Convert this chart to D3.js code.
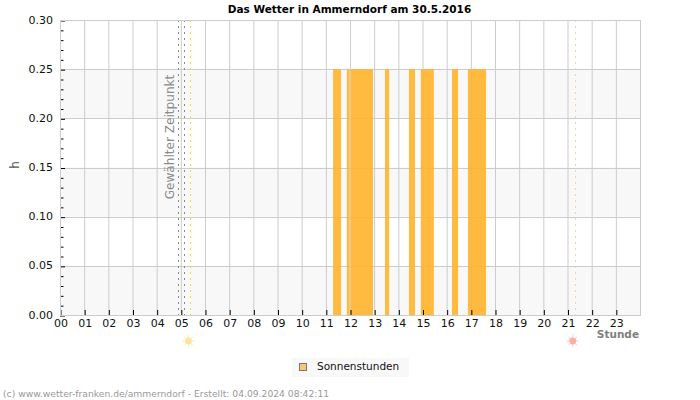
<!DOCTYPE html>
<html>
<head>
<meta charset="utf-8">
<script src="https://cdn.jsdelivr.net/npm/d3@7"></script>
<style>
  html, body { margin: 0; padding: 0; background: #fff; }
  text { font-family: "DejaVu Sans", sans-serif; }
  svg { display: block; }
</style>
</head>
<body>
<div id="chart"></div>
<script>
const title = "Das Wetter in Ammerndorf am 30.5.2016";
const credit = "(c) www.wetter-franken.de/ammerndorf - Erstellt: 04.09.2024 08:42:11";
const hourLabels = d3.range(24).map(h => String(h).padStart(2, "0"));
const yTicks = [0, 0.05, 0.10, 0.15, 0.20, 0.25, 0.30];
const yMinorTicks = [0.01, 0.02, 0.03, 0.04, 0.06, 0.07, 0.08, 0.09, 0.11, 0.12, 0.13, 0.14,
                     0.16, 0.17, 0.18, 0.19, 0.21, 0.22, 0.23, 0.24, 0.26, 0.27, 0.28, 0.29];
const bandStarts = [0, 0.10, 0.20];
const bandEnds = [0.05, 0.15, 0.25];

// sunshine intervals, in hours
const sunStart = [11.30, 11.87, 12.04, 13.45, 14.44, 14.93, 16.22, 16.88];
const sunEnd = [11.63, 11.99, 12.95, 13.62, 14.69, 15.47, 16.47, 17.63];
const sunValue = [0.25, 0.25, 0.25, 0.25, 0.25, 0.25, 0.25, 0.25];

const selectedTimes = [4.90, 5.13];
const sunrise = 5.40;
const sunset = 21.30;

const width = 700, height = 400;
const svg = d3.select("#chart").append("svg")
    .attr("width", width)
    .attr("height", height);

const x = d3.scaleLinear().domain([0, 24]).range([60, 640]);
const y = d3.scaleLinear().domain([0, 0.30]).range([315, 20]);

// stripes
svg.selectAll("rect.band")
  .data(bandStarts)
  .join("rect")
    .attr("class", "band")
    .attr("x", x(0))
    .attr("width", x(24) - x(0))
    .attr("y", (d, i) => y(bandEnds[i]))
    .attr("height", (d, i) => y(d) - y(bandEnds[i]))
    .attr("fill", "#f8f8f8");

// grid
const gridColor = "#cccccc";
svg.selectAll("line.gx")
  .data(d3.range(0, 25))
  .join("line")
    .attr("class", "gx")
    .attr("x1", d => x(d) + 0.5).attr("x2", d => x(d) + 0.5)
    .attr("y1", y(0.30)).attr("y2", y(0))
    .attr("stroke", gridColor);
svg.selectAll("line.gy")
  .data(yTicks)
  .join("line")
    .attr("class", "gy")
    .attr("x1", x(0)).attr("x2", x(24))
    .attr("y1", d => Math.round(y(d)) + 0.5).attr("y2", d => Math.round(y(d)) + 0.5)
    .attr("stroke", gridColor);

// sunshine bars
svg.selectAll("rect.sun")
  .data(sunStart)
  .join("rect")
    .attr("class", "sun")
    .attr("x", d => x(d))
    .attr("width", (d, i) => x(sunEnd[i]) - x(d))
    .attr("y", (d, i) => y(sunValue[i]))
    .attr("height", (d, i) => y(0) - y(sunValue[i]))
    .attr("fill", "#ffb32a")
    .attr("fill-opacity", 0.9);

// selected time + sunrise / sunset markers
const marker = (h, color) => svg.append("line")
    .attr("x1", Math.round(x(h)) + 0.5).attr("x2", Math.round(x(h)) + 0.5)
    .attr("y1", y(0.30)).attr("y2", y(0))
    .attr("stroke", color)
    .attr("stroke-dasharray", "2,4");
selectedTimes.forEach(h => marker(h, "#888888"));
marker(sunrise - 0.02, "#f5e020");
marker(sunset, "#f5d3a8");

svg.append("text")
    .attr("transform", `translate(174,137) rotate(-90)`)
    .attr("text-anchor", "middle")
    .attr("font-size", 12.1)
    .attr("fill", "#8a8a8a")
    .text("Gewählter Zeitpunkt");

// axes
const xAxis = d3.axisBottom(x)
    .tickValues(d3.range(24))
    .tickFormat(d => hourLabels[d])
    .tickSize(-5)
    .tickPadding(4);
const gx = svg.append("g").attr("transform", `translate(0.5,${y(0)})`).call(xAxis);
gx.select(".domain").remove();
gx.selectAll("text").attr("font-size", 11).attr("fill", "#111").attr("font-family", "DejaVu Sans");
gx.selectAll("line").attr("stroke", "#000");

const yAxis = d3.axisLeft(y)
    .tickValues(yTicks)
    .tickFormat(d3.format(".2f"))
    .tickSize(-5)
    .tickPadding(7);
const gy = svg.append("g").attr("transform", `translate(${x(0)},0.5)`).call(yAxis);
gy.select(".domain").remove();
gy.selectAll("text").attr("font-size", 11).attr("fill", "#111")
    .attr("font-family", "DejaVu Sans").attr("y", -1);
gy.selectAll("line").attr("stroke", "#000");

const yMinor = d3.axisLeft(y).tickValues(yMinorTicks).tickFormat("").tickSize(-3);
const gm = svg.append("g").attr("transform", `translate(${x(0) + 0.5},0.5)`).call(yMinor);
gm.select(".domain").remove();
gm.selectAll("line").attr("stroke", "#000");

svg.append("rect")
    .attr("x", x(0) + 0.5).attr("y", y(0.30) + 0.5)
    .attr("width", x(24) - x(0)).attr("height", y(0) - y(0.30))
    .attr("fill", "none")
    .attr("stroke", gridColor);

// sun icons below the axis
const sunIcon = (h, color, rays) => {
  const g = svg.append("g").attr("transform", `translate(${x(h) - 2},341)`);
  g.selectAll("line")
    .data(d3.range(8))
    .join("line")
      .attr("x1", d => 3 * Math.cos(d * Math.PI / 4))
      .attr("y1", d => 3 * Math.sin(d * Math.PI / 4))
      .attr("x2", d => 6 * Math.cos(d * Math.PI / 4))
      .attr("y2", d => 6 * Math.sin(d * Math.PI / 4))
      .attr("stroke", rays);
  g.append("circle").attr("r", 3.4).attr("fill", color);
};
sunIcon(sunrise, "#fde49a", "#fde9b4");
sunIcon(sunset, "#fdb0a0", "#fdc8bc");

// labels
svg.append("text")
    .attr("x", 349.5).attr("y", 13)
    .attr("text-anchor", "middle")
    .attr("font-size", 10.5)
    .attr("font-weight", "bold")
    .attr("fill", "#000")
    .text(title);

svg.append("text")
    .attr("transform", "translate(19,165) rotate(-90)")
    .attr("text-anchor", "middle")
    .attr("font-size", 12)
    .attr("fill", "#555")
    .text("h");

svg.append("text")
    .attr("x", 639).attr("y", 338)
    .attr("text-anchor", "end")
    .attr("font-size", 10.5)
    .attr("font-weight", "bold")
    .attr("fill", "#808080")
    .text("Stunde");

// legend
svg.append("rect")
    .attr("x", 292).attr("y", 358)
    .attr("width", 117).attr("height", 19)
    .attr("fill", "#f8f8f8");
svg.append("rect")
    .attr("x", 299.5).attr("y", 363.5)
    .attr("width", 7).attr("height", 7)
    .attr("fill", "#fcc66f")
    .attr("stroke", "#777");
svg.append("text")
    .attr("x", 317).attr("y", 370)
    .attr("font-size", 10.5)
    .attr("fill", "#111")
    .text("Sonnenstunden");

svg.append("text")
    .attr("x", 3).attr("y", 397)
    .attr("font-size", 9.2)
    .attr("fill", "#999")
    .text(credit);
</script>
</body>
</html>
